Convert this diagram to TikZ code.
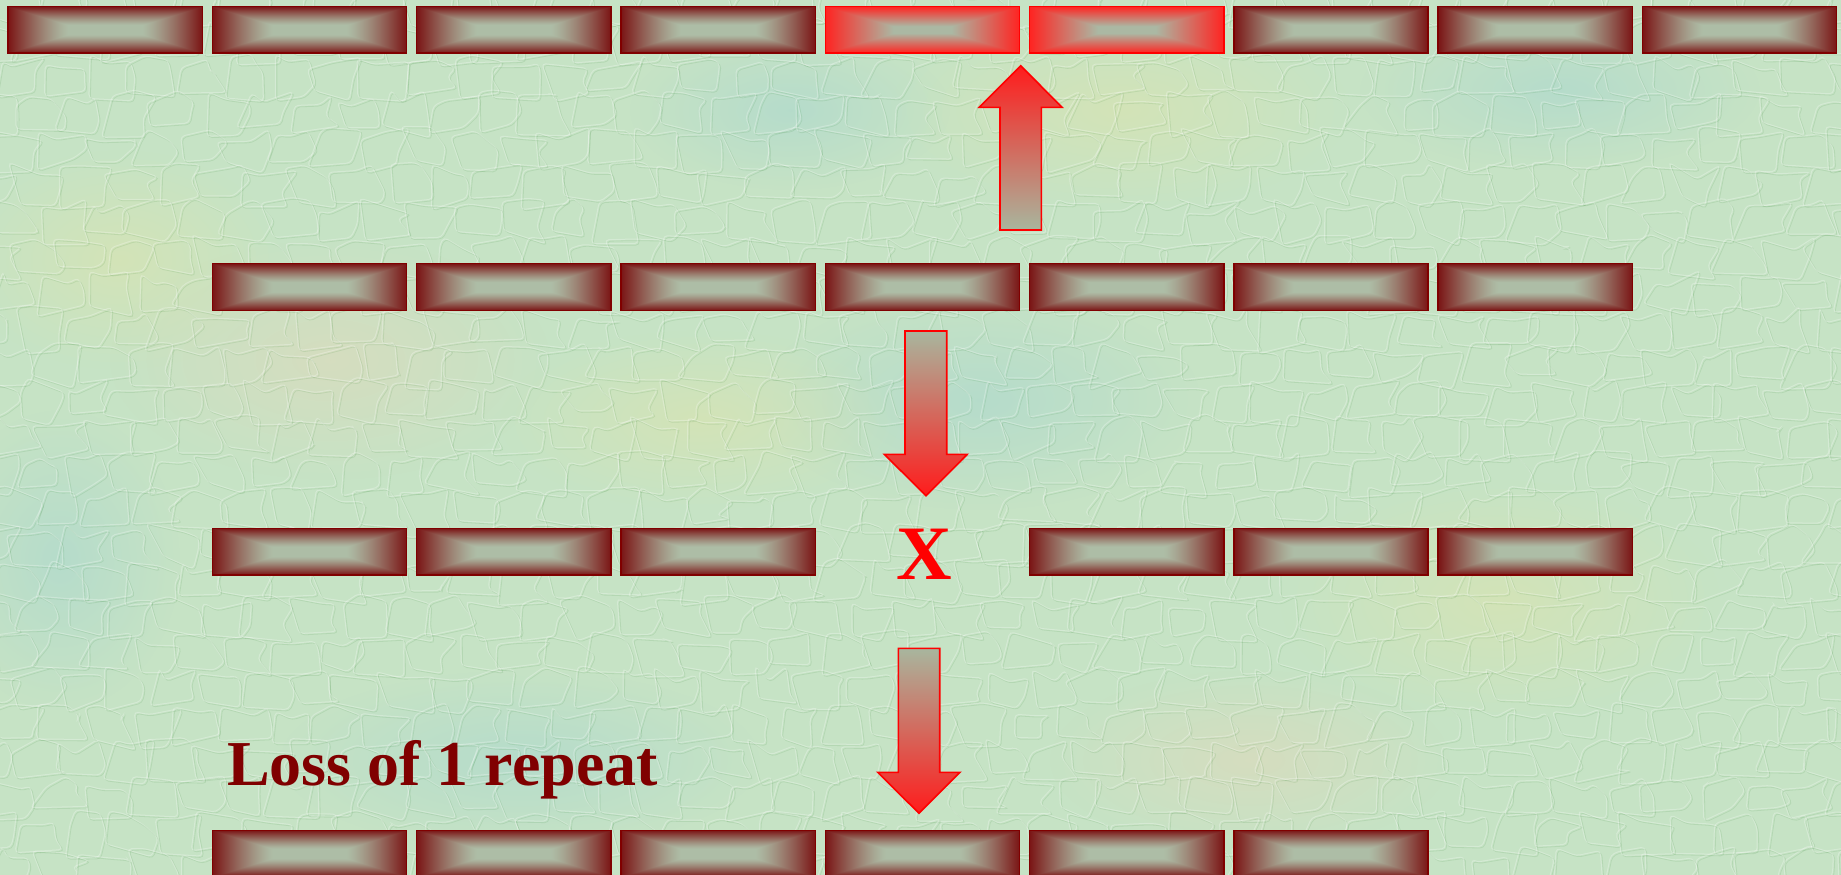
\documentclass[tikz,border=0pt]{standalone}
\usepackage{fontspec}
\setmainfont{Liberation Serif}
\usetikzlibrary{fadings}

\definecolor{bgbase}{RGB}{198,227,197}
\definecolor{blobyellow}{RGB}{222,228,172}
\definecolor{blobblue}{RGB}{168,214,208}
\definecolor{blobbeige}{RGB}{226,216,186}
\definecolor{boxedge}{RGB}{128,0,0}
\definecolor{lossred}{RGB}{128,0,0}
\definecolor{arrowred}{RGB}{255,28,28}
\definecolor{arrowgray}{RGB}{168,182,158}

\pgfdeclarefunctionalshading{boxdark}{\pgfpointorigin}{\pgfpoint{100bp}{100bp}}{}{
 50 sub abs 25 div 0.2 sub 0.8 div
 exch 50 sub abs 25 div 0.38 sub 0.62 div
 2 copy sub abs add add 2 div
 dup abs add 2 div
 dup 1 sub abs neg add 1 add 2 div
 1.25 exp
 dup -0.20 mul 0.68 add
 exch dup -0.66 mul 0.74 add
 exch -0.57 mul 0.65 add
}
\pgfdeclarefunctionalshading{boxred}{\pgfpointorigin}{\pgfpoint{100bp}{100bp}}{}{
 50 sub abs 25 div 0.15 sub 0.85 div
 exch 50 sub abs 25 div 0.3 sub 0.7 div
 2 copy sub abs add add 2 div
 dup abs add 2 div
 dup 1 sub abs neg add 1 add 2 div
 dup 0.33 mul 0.67 add
 exch dup -0.58 mul 0.72 add
 exch -0.51 mul 0.64 add
}

\tikzfading[name=fuzz, inner color=transparent!0, outer color=transparent!100]

\tikzset{
  repbox/.style={draw=boxedge, line width=1.4pt, shading=boxdark,
    minimum width=194.3pt, minimum height=46.6pt, inner sep=0pt, anchor=north west},
  hotbox/.style={repbox, draw=red, shading=boxred},
  uparrow/.style={draw=red, line width=1.6pt, line join=miter,
    top color=arrowred, bottom color=arrowgray},
  downarrow/.style={draw=red, line width=1.6pt, line join=miter,
    top color=arrowgray, bottom color=arrowred},
  blob/.style={path fading=fuzz, fill opacity=0.55},
  stone/.style={draw=white, draw opacity=0.26, line width=1pt, rounded corners=4pt},
  stoneshade/.style={draw=black!60!green, draw opacity=0.09, line width=0.8pt, rounded corners=4pt}
}

\begin{document}
\begin{tikzpicture}[x=1pt, y=-1pt]
% background
\fill[bgbase] (0,0) rectangle (1841,875);
\useasboundingbox (0,0) rectangle (1841,875);
\fill[blobyellow, blob] (1120,110) ellipse (230 and 100);
\fill[blobblue, blob] (790,110) ellipse (160 and 80);
\fill[blobblue, blob] (980,400) ellipse (220 and 110);
\fill[blobyellow, blob] (700,420) ellipse (200 and 90);
\fill[blobbeige, blob] (330,360) ellipse (220 and 120);
\fill[blobyellow, blob] (120,260) ellipse (160 and 110);
\fill[blobblue, blob] (1560,90) ellipse (200 and 80);
\fill[blobyellow, blob] (1500,600) ellipse (220 and 120);
\fill[blobblue, blob] (520,760) ellipse (240 and 90);
\fill[blobblue, blob] (60,560) ellipse (120 and 150);
\fill[blobbeige, blob] (1250,760) ellipse (200 and 90);

% stone texture
\pgfmathsetseed{7}
\begin{scope}
\clip (0,0) rectangle (1841,875);
\foreach \cy [count=\r] in {-10,26,...,890} {
  \pgfmathsetmacro{\off}{mod(\r,2)*23-30}
  \foreach \cx in {0,46,...,1900} {
    \pgfmathsetmacro{\ax}{\cx+\off+rand*10}\pgfmathsetmacro{\ay}{\cy+rand*8}
    \pgfmathsetmacro{\mx}{\cx+\off+21+rand*10}\pgfmathsetmacro{\my}{\cy+rand*9}
    \pgfmathsetmacro{\bx}{\cx+\off+42+rand*10}\pgfmathsetmacro{\by}{\cy+rand*8}
    \pgfmathsetmacro{\ex}{\cx+\off+42+rand*9}\pgfmathsetmacro{\ey}{\cy+16+rand*8}
    \pgfmathsetmacro{\ccx}{\cx+\off+42+rand*10}\pgfmathsetmacro{\ccy}{\cy+32+rand*8}
    \pgfmathsetmacro{\dx}{\cx+\off+rand*10}\pgfmathsetmacro{\dy}{\cy+32+rand*8}
    \draw[stoneshade] (\ax+1.5,\ay+1.5) -- (\mx+1.5,\my+1.5) -- (\bx+1.5,\by+1.5) -- (\ex+1.5,\ey+1.5) -- (\ccx+1.5,\ccy+1.5) -- (\dx+1.5,\dy+1.5) -- cycle;
    \draw[stone] (\ax,\ay) -- (\mx,\my) -- (\bx,\by) -- (\ex,\ey) -- (\ccx,\ccy) -- (\dx,\dy) -- cycle;
  }
}
\end{scope}

% row 1
\foreach \i in {0,1,2,3,6,7,8}
  \node[repbox] (a\i) at ({7.3+204.3*\i},5.7) {};
\foreach \i in {4,5}
  \node[hotbox] (a\i) at ({7.3+204.3*\i},5.7) {};
% row 2
\foreach \i in {1,...,7}
  \node[repbox] (b\i) at ({7.3+204.3*\i},263) {};
% row 3
\foreach \i in {1,2,3,5,6,7}
  \node[repbox] (c\i) at ({7.3+204.3*\i},527.5) {};
% row 4
\foreach \i in {1,...,6}
  \node[repbox] (d\i) at ({7.3+204.3*\i},829.5) {};

% block arrows
\shade[uparrow] (1000,230) -- (1000,107.3) -- (979.3,107.3) -- (1020.7,65.7)
  -- (1062,107.3) -- (1041.3,107.3) -- (1041.3,230) -- cycle;
\shade[downarrow] (905,331) -- (905,454.3) -- (884.3,454.3) -- (926,495.7)
  -- (967.3,454.3) -- (946.7,454.3) -- (946.7,331) -- cycle;
\shade[downarrow] (898.3,648.3) -- (898.3,772.3) -- (877.7,772.3) -- (919,813.3)
  -- (960,772.3) -- (939.7,772.3) -- (939.7,648.3) -- cycle;

% labels
\node[text=red, font=\bfseries\fontsize{77}{77}\selectfont, anchor=base, inner sep=0pt]
  (x) at (924,579.3) {X};
\node[text=lossred, font=\bfseries\fontsize{64}{64}\selectfont, anchor=base west, inner sep=0pt]
  (loss) at (227,785) {Loss of 1 repeat};
\end{tikzpicture}
\end{document}
